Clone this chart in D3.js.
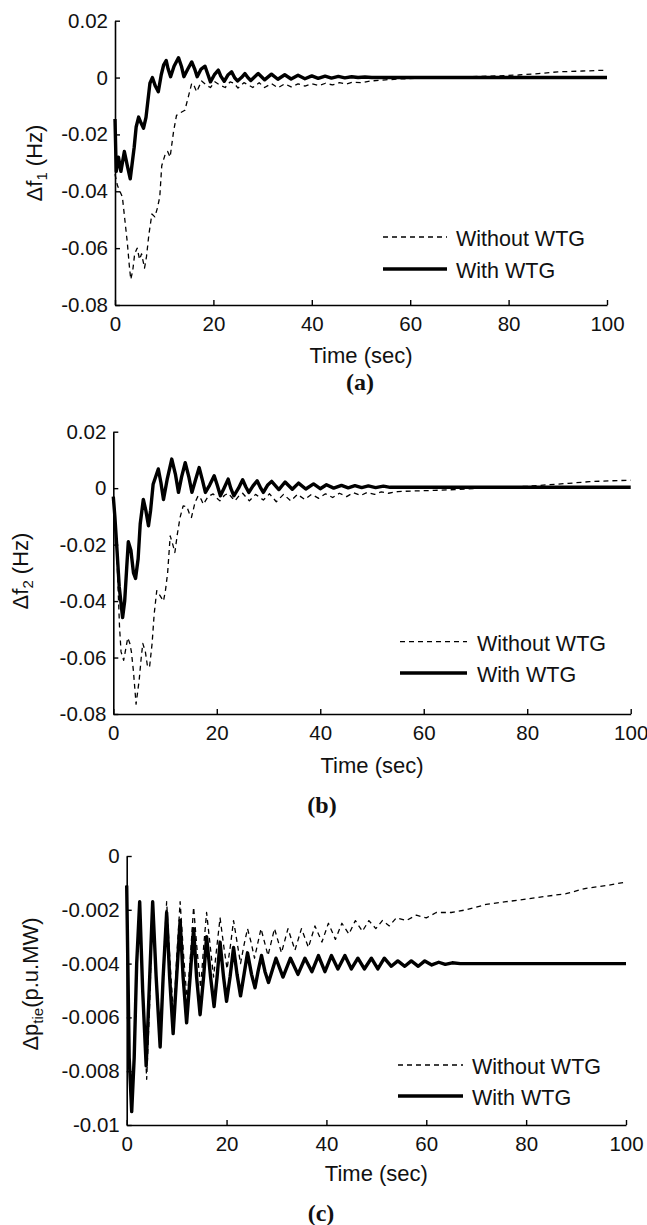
<!DOCTYPE html>
<html>
<head>
<meta charset="utf-8">
<script src="https://cdn.jsdelivr.net/npm/d3@7"></script>
<style>
  body { margin: 0; background: #fff; }
  svg text { font-family: "Liberation Sans", Arial, sans-serif; fill: #111; }
  .tick text { font-size: 20.5px; }
  svg text.caption { font-family: "Liberation Serif", "Times New Roman", serif; font-weight: bold; font-size: 24px; }
</style>
</head>
<body>
<svg id="fig" width="647" height="1225"></svg>
<script>
// ---- data: [time (sec), value] ----
const timeTicks = [0, 20, 40, 60, 80, 100];
const freqTicks = [0.02, 0, -0.02, -0.04, -0.06, -0.08];
const tieTicks = [0, -0.002, -0.004, -0.006, -0.008, -0.01];
const seriesNames = ['Without WTG', 'With WTG'];
const captions = ['(a)', '(b)', '(c)'];

// (a) Δf1
const f1Without = [
  [0, -0.034], [0.5, -0.038], [1.0, -0.040], [1.5, -0.042], [2.0, -0.050], [2.5, -0.058], [2.9, -0.066],
  [3.2, -0.071], [3.6, -0.068], [4.0, -0.062], [4.5, -0.060], [5.0, -0.064], [5.4, -0.062], [6.0, -0.067],
  [6.4, -0.063], [6.9, -0.055], [7.5, -0.048], [8.1, -0.049], [8.6, -0.046], [9.1, -0.042], [9.5, -0.031],
  [10.2, -0.027], [10.7, -0.026], [11.2, -0.028], [11.9, -0.019], [12.5, -0.0133], [13.2, -0.0125],
  [14.2, -0.0115], [14.9, -0.0068], [15.6, -0.002], [16.1, -0.003], [16.6, -0.005], [17.6, -0.0012],
  [18.6, -0.0027], [19.4, -0.0035], [20.3, -0.0015], [21.2, -0.0025], [22.4, -0.0035], [23.4, -0.0015],
  [24.2, -0.002], [25.0, -0.0037], [26.2, -0.0018], [27.0, -0.0025], [28.0, -0.0035], [29.3, -0.0018],
  [30.4, -0.0035], [31.8, -0.0021], [33.1, -0.0036], [34.5, -0.0022], [35.8, -0.0033], [37.2, -0.0022],
  [38.6, -0.003], [40.0, -0.0022], [41.4, -0.0028], [42.8, -0.002], [44.2, -0.0026], [45.6, -0.0018],
  [47.0, -0.0023], [48.4, -0.0016], [50, -0.0018], [52, -0.0012], [55, -0.0008], [58, -0.0005],
  [62, -0.0002], [66, 0], [72, 0.0003], [78, 0.0006], [82, 0.0009], [86, 0.0014], [90, 0.002],
  [95, 0.0023], [100, 0.0026]
];
const f1With = [
  [0, -0.0146], [0.25, -0.033], [0.7, -0.028], [1.2, -0.033], [1.9, -0.026], [2.5, -0.031], [3.1, -0.0356],
  [3.9, -0.0245], [4.3, -0.0174], [4.8, -0.0139], [5.3, -0.016], [5.8, -0.0178], [6.3, -0.014], [7.1, -0.002],
  [7.6, 0], [8.2, -0.003], [8.8, -0.005], [9.4, 0.001], [9.9, 0.0045], [10.4, 0.006], [10.8, 0.003],
  [11.3, 0.0003], [12.0, 0.004], [12.9, 0.007], [13.5, 0.004], [14.0, 0.0003], [14.8, 0.003], [15.6, 0.0055],
  [16.2, 0.003], [16.7, 0.0003], [17.5, 0.003], [18.3, 0.004], [18.9, 0.001], [19.4, -0.0015], [20.2, 0.001],
  [21.0, 0.0026], [21.5, 0.0005], [22.2, -0.0013], [23.0, 0.001], [23.7, 0.002], [24.3, 0], [24.9, -0.0012],
  [25.7, 0], [26.4, 0.0014], [27.0, 0], [27.6, -0.001], [28.4, 0.0003], [29.1, 0.0014], [30.4, -0.0008],
  [31.8, 0.0012], [33.1, -0.0006], [34.5, 0.001], [35.8, -0.0005], [37.2, 0.0008], [38.6, -0.0004],
  [40.0, 0.0006], [41.3, -0.0003], [42.7, 0.0005], [44.0, -0.0002], [45.4, 0.0004], [46.7, -0.0001],
  [48.1, 0.0003], [49.4, 0], [50.8, 0.0002], [52.2, 0], [100, 0]
];

// (b) Δf2
const f2Without = [
  [0, -0.003], [0.65, -0.022], [1.2, -0.049], [1.5, -0.058], [2.0, -0.061], [2.4, -0.057], [2.8, -0.053],
  [3.2, -0.055], [3.5, -0.058], [3.9, -0.065], [4.4, -0.0765], [5.0, -0.068], [5.4, -0.060], [5.7, -0.055],
  [6.2, -0.058], [6.6, -0.063], [7.0, -0.0635], [7.5, -0.055], [7.9, -0.0446], [8.4, -0.0363], [9.0, -0.038],
  [9.7, -0.040], [10.1, -0.036], [10.5, -0.030], [11.0, -0.0169], [11.5, -0.020], [11.9, -0.0228],
  [12.4, -0.016], [12.9, -0.0104], [13.5, -0.0063], [14.2, -0.0065], [14.7, -0.009], [15.1, -0.0104],
  [15.8, -0.005], [16.4, -0.0027], [17.0, -0.004], [17.4, -0.0057], [18.3, -0.003], [19.3, -0.002],
  [20.0, -0.0035], [20.6, -0.0045], [21.5, -0.0025], [22.2, -0.0018], [23.0, -0.0035], [23.5, -0.0045],
  [24.4, -0.0025], [25.0, -0.0018], [25.8, -0.0035], [26.3, -0.0045], [27.5, -0.0022], [29.0, -0.0042],
  [30.2, -0.002], [31.5, -0.0048], [32.9, -0.0022], [34.3, -0.0045], [35.6, -0.0022], [37.0, -0.004],
  [38.3, -0.0022], [39.7, -0.0036], [41.0, -0.002], [42.4, -0.0033], [43.7, -0.0018], [45.1, -0.003],
  [46.4, -0.0016], [47.8, -0.0026], [49.1, -0.0015], [50.5, -0.0022], [51.8, -0.0013], [53.2, -0.0018],
  [55, -0.0012], [58, -0.001], [62, -0.0008], [66, -0.0005], [70, -0.0001], [75, 0.0003], [80, 0.0007],
  [84, 0.0012], [88, 0.0017], [92, 0.0023], [96, 0.0026], [100, 0.0028]
];
const f2With = [
  [0, -0.003], [0.3, -0.010], [0.65, -0.020], [1.15, -0.035], [1.8, -0.0458], [2.2, -0.040], [2.6, -0.028],
  [2.9, -0.019], [3.4, -0.022], [3.9, -0.030], [4.3, -0.032], [4.8, -0.025], [5.2, -0.0127], [5.8, -0.004],
  [6.3, -0.008], [6.8, -0.0133], [7.2, -0.008], [7.7, 0.0014], [8.7, 0.0068], [9.2, 0.002], [9.7, -0.004],
  [10.4, 0.003], [11.3, 0.0103], [12.0, 0.005], [12.6, -0.0015], [13.2, 0.004], [13.9, 0.009], [14.6, 0.004],
  [15.2, -0.0015], [15.9, 0.003], [16.6, 0.0073], [17.2, 0.003], [17.8, -0.0015], [18.6, 0.001],
  [19.5, 0.0044], [20.1, 0.001], [20.7, -0.0027], [21.4, 0], [22.2, 0.0032], [22.7, 0], [23.3, -0.0027],
  [24.2, 0], [25.0, 0.003], [25.6, 0.0005], [26.2, -0.0015], [27.0, 0.0008], [27.8, 0.0026], [28.5, 0],
  [29.0, -0.0015], [29.8, 0.001], [30.6, 0.0024], [32.0, -0.0005], [33.2, 0.0022], [34.6, -0.0004],
  [35.8, 0.0018], [37.2, -0.0003], [38.7, 0.0015], [40.0, -0.0002], [41.2, 0.0012], [42.6, 0],
  [44.1, 0.001], [45.4, 0.0001], [46.7, 0.0009], [48.0, 0.0002], [49.3, 0.0008], [50.7, 0.0002],
  [52.2, 0.0007], [53.5, 0.0003], [100, 0.0003]
];

// (c) Δp_tie
const tieWithout = [
  [0, -0.0011], [0.5, -0.0075], [1.0, -0.0095], [1.5, -0.0075], [2.0, -0.004], [2.6, -0.0017], [3.3, -0.0055],
  [4.0, -0.0083], [4.6, -0.0055], [5.2, -0.0017], [5.9, -0.0043], [6.7, -0.0068], [7.3, -0.0042],
  [8.0, -0.0017], [8.7, -0.004], [9.4, -0.006], [10.0, -0.0038], [10.7, -0.0017], [11.4, -0.0037],
  [12.1, -0.0054], [12.8, -0.0036], [13.4, -0.0019], [14.1, -0.0035], [14.8, -0.0049], [15.4, -0.0034],
  [16.0, -0.0021], [16.7, -0.0033], [17.4, -0.0045], [18.1, -0.0033], [18.7, -0.0023], [19.4, -0.0033],
  [20.1, -0.0042], [20.8, -0.0033], [21.4, -0.0024], [22.1, -0.0032], [22.8, -0.004], [23.5, -0.0033],
  [24.2, -0.0027], [24.9, -0.0032], [25.6, -0.0038], [26.3, -0.0032], [26.9, -0.0027], [27.6, -0.0032],
  [28.3, -0.0037], [29.6, -0.0027], [31.0, -0.0036], [32.3, -0.0027], [33.7, -0.0035], [35.0, -0.0027],
  [36.4, -0.0034], [37.7, -0.0026], [39.1, -0.0032], [40.4, -0.0025], [41.8, -0.0031], [43.1, -0.0025],
  [44.5, -0.0029], [45.8, -0.0024], [47.2, -0.0028], [48.5, -0.0024], [49.9, -0.0027], [51.2, -0.0024],
  [52.6, -0.0026], [54.0, -0.0023], [56, -0.0024], [58, -0.0022], [60, -0.0023], [62, -0.0021],
  [65, -0.0021], [68, -0.002], [72, -0.0018], [76, -0.0017], [80, -0.0016], [84, -0.0015], [88, -0.0014],
  [92, -0.0012], [96, -0.0011], [100, -0.00097]
];
const tieWith = [
  [0, -0.0011], [0.5, -0.0075], [1.0, -0.0095], [1.5, -0.0075], [2.0, -0.004], [2.6, -0.0017], [3.2, -0.005],
  [3.9, -0.0078], [4.5, -0.005], [5.2, -0.0017], [5.9, -0.0045], [6.7, -0.0071], [7.3, -0.0045],
  [8.0, -0.0021], [8.6, -0.0045], [9.3, -0.0066], [10.0, -0.0045], [10.7, -0.0024], [11.3, -0.0045],
  [12.0, -0.0062], [12.7, -0.0045], [13.4, -0.0027], [14.0, -0.0045], [14.7, -0.0059], [15.4, -0.0045],
  [16.0, -0.003], [16.8, -0.0045], [17.5, -0.0056], [18.1, -0.0045], [18.7, -0.0032], [19.4, -0.0045],
  [20.0, -0.0054], [20.7, -0.0045], [21.4, -0.0034], [22.1, -0.0044], [22.8, -0.0052], [23.5, -0.0044],
  [24.2, -0.0036], [25.0, -0.0044], [25.7, -0.0049], [26.3, -0.0043], [27.0, -0.0037], [27.7, -0.0043],
  [28.4, -0.0047], [29.9, -0.0038], [31.3, -0.0045], [32.8, -0.0038], [34.3, -0.0044], [35.7, -0.0038],
  [37.1, -0.0043], [38.4, -0.0037], [39.7, -0.0043], [41.0, -0.0037], [42.3, -0.0042], [43.7, -0.0037],
  [45.0, -0.0042], [46.3, -0.0038], [47.6, -0.0042], [49.0, -0.0038], [50.3, -0.0042], [51.6, -0.0038],
  [53.0, -0.0041], [54.3, -0.0039], [55.7, -0.0041], [57.0, -0.0039], [58.4, -0.0041], [59.7, -0.0039],
  [61.1, -0.00405], [62.5, -0.00395], [63.8, -0.00403], [65.2, -0.00397], [66.8, -0.004], [100, -0.004]
];

// ---- layout ----
const svg = d3.select('#fig');

const panels = [
  { left: 115, right: 607, top: 20.7, bottom: 305, yDomain: [-0.08, 0.02], yTicks: freqTicks,
    series: [f1Without, f1With], yMain: 'Δf', ySub: '1', yRest: ' (Hz)', yLabelX: 42, yLabelY: 163,
    xLabelY: 355, cap: captions[0], capX: 360, capY: 382,
    leg: { x0: 383, x1: 447, tx: 456, y: [237, 269] } },
  { left: 113.3, right: 630.7, top: 431.7, bottom: 714, yDomain: [-0.08, 0.02], yTicks: freqTicks,
    series: [f2Without, f2With], yMain: 'Δf', ySub: '2', yRest: ' (Hz)', yLabelX: 28, yLabelY: 571,
    xLabelY: 765, cap: captions[1], capX: 322, capY: 805,
    leg: { x0: 400, x1: 467, tx: 477, y: [641.7, 673] } },
  { left: 126.7, right: 626, top: 856, bottom: 1125, yDomain: [-0.01, 0], yTicks: tieTicks,
    series: [tieWithout, tieWith], yMain: 'Δp', ySub: 'tie', yRest: '(p.u.MW)', yLabelX: 38, yLabelY: 984,
    xLabelY: 1173, cap: captions[2], capX: 321, capY: 1213,
    leg: { x0: 398, x1: 463, tx: 472, y: [1065, 1096] } }
];

const styles = [
  { width: 1.3, dash: '5,4' },
  { width: 3.4, dash: null }
];

function drawPanel(p) {
  const g = svg.append('g');
  const x = d3.scaleLinear().domain([0, 100]).range([p.left, p.right]);
  const y = d3.scaleLinear().domain(p.yDomain).range([p.bottom, p.top]);

  const xAxis = g.append('g')
    .attr('transform', `translate(0,${p.bottom})`)
    .call(d3.axisBottom(x).tickValues(timeTicks).tickFormat(d => String(d))
      .tickSizeInner(-5).tickSizeOuter(0).tickPadding(11));
  const yAxis = g.append('g')
    .attr('transform', `translate(${p.left},0)`)
    .call(d3.axisLeft(y).tickValues(p.yTicks).tickFormat(d => String(d))
      .tickSizeInner(-5).tickSizeOuter(0).tickPadding(7));
  [xAxis, yAxis].forEach(a => {
    a.select('.domain').attr('stroke', '#000').attr('stroke-width', 1.6);
    a.selectAll('.tick line').attr('stroke', '#000').attr('stroke-width', 1.4);
  });

  const line = d3.line().x(d => x(d[0])).y(d => y(d[1]));
  p.series.forEach((s, i) => {
    g.append('path').datum(s)
      .attr('fill', 'none').attr('stroke', '#000')
      .attr('stroke-width', styles[i].width)
      .attr('stroke-linejoin', 'round')
      .attr('stroke-dasharray', styles[i].dash)
      .attr('d', line);
  });

  // legend, no box
  seriesNames.forEach((name, i) => {
    g.append('line')
      .attr('x1', p.leg.x0).attr('x2', p.leg.x1)
      .attr('y1', p.leg.y[i]).attr('y2', p.leg.y[i])
      .attr('stroke', '#000').attr('stroke-width', styles[i].width)
      .attr('stroke-dasharray', styles[i].dash);
    g.append('text')
      .attr('x', p.leg.tx).attr('y', p.leg.y[i] + 1.5).attr('dy', '0.35em')
      .style('font-size', '21.5px')
      .text(name);
  });

  g.append('text')
    .attr('x', (p.left + p.right) / 2).attr('y', p.xLabelY).attr('dy', '0.35em')
    .attr('text-anchor', 'middle').style('font-size', '22px')
    .text('Time (sec)');

  const yl = g.append('text')
    .attr('transform', `translate(${p.yLabelX},${p.yLabelY}) rotate(-90)`)
    .attr('text-anchor', 'middle').style('font-size', '22px');
  yl.append('tspan').text(p.yMain);
  yl.append('tspan').attr('dy', 5).style('font-size', '15px').text(p.ySub);
  yl.append('tspan').attr('dy', -5).text(p.yRest);

  g.append('text')
    .attr('class', 'caption')
    .attr('x', p.capX).attr('y', p.capY).attr('dy', '0.35em')
    .attr('text-anchor', 'middle')
    .text(p.cap);
}

panels.forEach(drawPanel);
</script>
</body>
</html>
